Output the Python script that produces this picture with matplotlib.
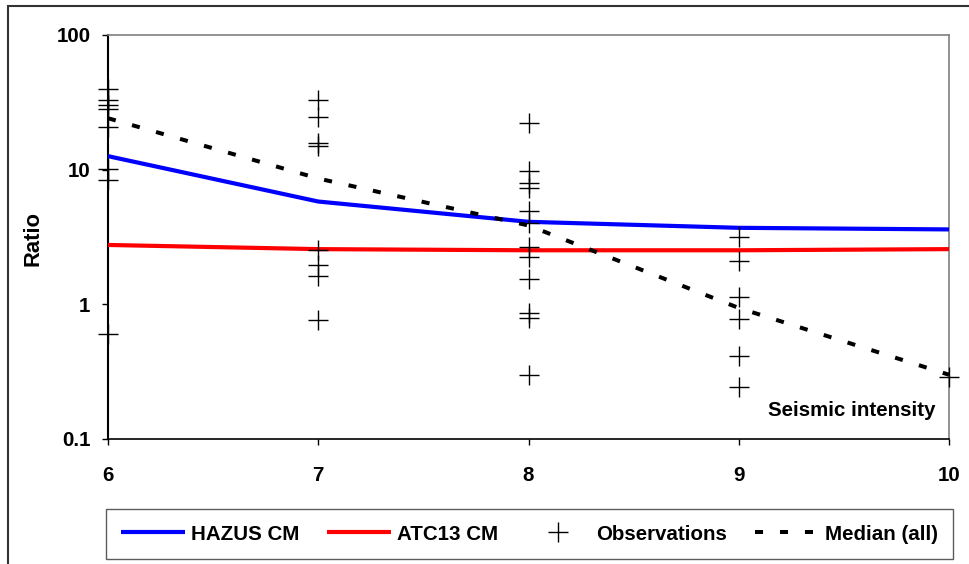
import matplotlib
matplotlib.use('Agg')
import matplotlib.pyplot as plt
from matplotlib.patches import Rectangle
from matplotlib.ticker import FixedLocator, NullLocator, FixedFormatter

# ---------------- data ----------------
intensity = [6, 7, 8, 9, 10]
hazus_cm = [12.6, 5.8, 4.1, 3.7, 3.6]
atc13_cm = [2.76, 2.57, 2.52, 2.52, 2.57]
median_all = [24.1, 8.6, 3.85, 0.94, 0.30]

obs_i6 = [39.7, 32.9, 30.2, 28.1, 20.9, 10.1, 8.4, 0.60]
obs_i7 = [32.9, 24.7, 15.7, 15.0, 2.54, 1.96, 1.63, 0.76]
obs_i8 = [22.3, 9.8, 8.0, 7.3, 4.9, 4.0, 2.68, 2.26, 1.55, 0.86, 0.79, 0.30]
obs_i9 = [3.18, 2.10, 1.13, 0.78, 0.41, 0.245]
obs_i10 = [0.29]

y_ticks = [0.1, 1, 10, 100]
y_tick_labels = ['0.1', '1', '10', '100']
x_ticks = [6, 7, 8, 9, 10]
x_tick_labels = ['6', '7', '8', '9', '10']

# ---------------- figure ----------------
plt.rcParams['font.family'] = ['Liberation Sans', 'DejaVu Sans']
plt.rcParams['font.weight'] = 'bold'
FS = 14.8

W, H = 969, 564
fig = plt.figure(figsize=(W / 100, H / 100), dpi=100)
ax = fig.add_axes([108 / W, 1 - 439 / H, (949 - 108) / W, (439 - 35) / H])

obs_groups = [(6, obs_i6), (7, obs_i7), (8, obs_i8), (9, obs_i9), (10, obs_i10)]
obs_x = [x for x, ys in obs_groups for _ in ys]
obs_y = [y for _, ys in obs_groups for y in ys]

ax.plot(intensity, hazus_cm, color='#0000ff', lw=3.0, label='HAZUS CM', zorder=3,
        solid_capstyle='butt')
ax.plot(intensity, atc13_cm, color='#ff0000', lw=3.0, label='ATC13 CM', zorder=3,
        solid_capstyle='butt')
ax.plot(obs_x, obs_y, linestyle='none', marker='+', markersize=14, mew=1.0,
        color='black', label='Observations', zorder=4, clip_on=False)
ax.plot(intensity, median_all, color='black', lw=2.9, dashes=(2, 4.2),
        label='Median (all)', zorder=5)

ax.set_yscale('log')
ax.set_ylim(0.1, 100)
ax.set_xlim(6, 10)
ax.yaxis.set_major_locator(FixedLocator(y_ticks))
ax.yaxis.set_major_formatter(FixedFormatter(y_tick_labels))
ax.yaxis.set_minor_locator(NullLocator())
ax.set_xticks(x_ticks)
ax.set_xticklabels(x_tick_labels)

ax.tick_params(axis='y', direction='out', length=4.3, width=1.0, pad=8.3,
               labelsize=FS, color='black')
ax.tick_params(axis='x', direction='out', length=4.3, width=1.0, pad=15,
               labelsize=FS, color='black')
for lab in ax.get_xticklabels() + ax.get_yticklabels():
    lab.set_fontweight('bold')

ax.spines['left'].set_color('black')
ax.spines['left'].set_linewidth(1.5)
ax.spines['bottom'].set_color('black')
ax.spines['bottom'].set_linewidth(1.2)
ax.spines['top'].set_color('#808080')
ax.spines['top'].set_linewidth(1.2)
ax.spines['right'].set_color('#808080')
ax.spines['right'].set_linewidth(1.2)

ax.text(0.9834, 0.070, 'Seismic intensity', transform=ax.transAxes,
        ha='right', va='center', fontsize=FS, fontweight='bold')
fig.text(33 / W, 1 - 238 / H, 'Ratio', rotation=90, ha='center', va='center',
         fontsize=15.8, fontweight='bold')

leg = fig.legend(loc='lower left',
                 bbox_to_anchor=(106 / W, 1 - 559 / H, (953 - 106) / W, 60 / H),
                 ncol=4, mode='expand', fontsize=FS, frameon=True, fancybox=False,
                 handlelength=3.1, handletextpad=0.3, borderaxespad=0,
                 columnspacing=1.5, borderpad=0.75)
leg.get_frame().set_edgecolor('#333333')
leg.get_frame().set_linewidth(1.0)
for t in leg.get_texts():
    t.set_fontweight('bold')

# outer chart border (left and top visible)
fig.patches.append(Rectangle((8 / W, -0.1), 1.2, 1.1 - 6 / H, transform=fig.transFigure,
                             fill=False, edgecolor='#333333', linewidth=1.5, zorder=0))

fig.savefig('out.png', dpi=100)
